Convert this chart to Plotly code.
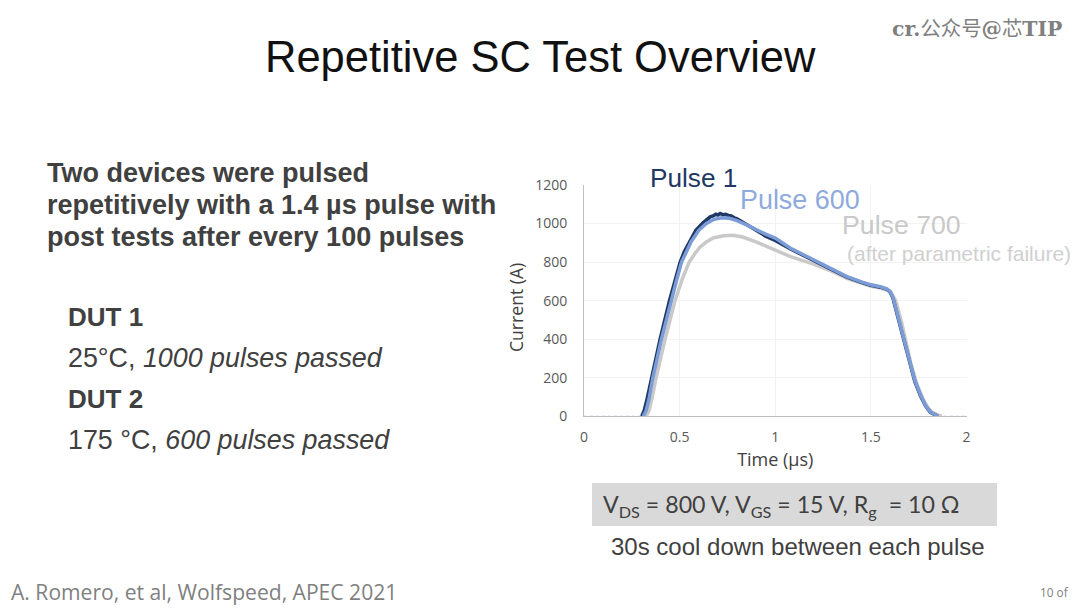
import plotly.graph_objects as go

W, H = 1080, 608

# values: time in us, current in A
pulse1_t = [0.302, 0.315, 0.33, 0.354, 0.398, 0.447, 0.475, 0.503, 0.525, 0.55, 0.585, 0.624, 0.64, 0.66, 0.675, 0.69, 0.70,
            0.712, 0.725, 0.74, 0.755, 0.77, 0.785, 0.80, 0.85, 0.90, 0.95, 1.00, 1.08, 1.20, 1.30, 1.375, 1.45, 1.50,
            1.55, 1.585, 1.60, 1.615, 1.637, 1.697, 1.73, 1.76, 1.785, 1.81, 1.85]
pulse1_i = [0, 30, 90, 200, 400, 600, 700, 800, 855, 905, 965, 1005, 1020, 1035, 1040, 1048, 1044,
            1052, 1046, 1048, 1042, 1040, 1030, 1024, 995, 965, 935, 912, 868, 808, 760, 722, 695, 680,
            670, 658, 645, 615, 530, 295, 180, 105, 55, 22, 0]

pulse600_t = [0.31, 0.325, 0.34, 0.36, 0.405, 0.455, 0.485, 0.51, 0.535, 0.56, 0.60, 0.64, 0.68, 0.72, 0.76, 0.80,
              0.85, 0.90, 0.95, 1.00, 1.08, 1.20, 1.30, 1.375, 1.45, 1.50, 1.55, 1.585, 1.60, 1.615, 1.637, 1.697, 1.73,
              1.76, 1.785, 1.81, 1.85]
pulse600_i = [0, 30, 90, 200, 400, 600, 710, 800, 855, 905, 965, 1000, 1022, 1030, 1027, 1015,
              993, 968, 945, 925, 872, 812, 765, 725, 697, 682, 672, 660, 647, 620, 537, 303, 185,
              110, 58, 24, 0]

pulse700_t = [0.325, 0.34, 0.355, 0.377, 0.424, 0.476, 0.515, 0.55, 0.58, 0.607, 0.64, 0.675, 0.73, 0.78, 0.83, 0.90,
              1.00, 1.08, 1.20, 1.30, 1.375, 1.45, 1.50, 1.55, 1.60, 1.63, 1.66, 1.71, 1.74,
              1.77, 1.795, 1.82, 1.87]
pulse700_i = [0, 30, 90, 200, 400, 600, 715, 800, 845, 878, 905, 925, 937, 939, 930, 905,
              862, 828, 790, 750, 715, 690, 675, 665, 650, 600, 490, 270, 170,
              95, 50, 20, 0]

baseline_t = [0, 0.30]
baseline_i = [0, 0]
tail_t = [1.85, 2]
tail_i = [0, 0]

x_ticks = [0, 0.5, 1, 1.5, 2]
x_labels = ["0", "0.5", "1", "1.5", "2"]
y_ticks = [0, 200, 400, 600, 800, 1000, 1200]


def px(x):
    return x / W


def py(y):
    return 1 - y / H


def label(x, y, text, size, color, font="Liberation Sans", anchor="left", angle=0):
    fig.add_annotation(x=px(x), y=py(y), xref="paper", yref="paper", text=text, showarrow=False,
                       xanchor=anchor, yanchor="middle", align="left", textangle=angle,
                       borderpad=0, borderwidth=0,
                       font=dict(family=font, size=size, color=color))


fig = go.Figure()

fig.add_trace(go.Scatter(x=baseline_t, y=baseline_i, mode="lines", line=dict(color="#8faadc", width=1, dash="dot")))
fig.add_trace(go.Scatter(x=tail_t, y=tail_i, mode="lines", line=dict(color="#8faadc", width=1, dash="dot")))
fig.add_trace(go.Scatter(x=pulse700_t, y=pulse700_i, mode="lines", name="Pulse 700",
                         line=dict(color="#c9c9c9", width=3.5)))
fig.add_trace(go.Scatter(x=pulse1_t, y=pulse1_i, mode="lines", name="Pulse 1",
                         line=dict(color="#1f3864", width=3.5)))
fig.add_trace(go.Scatter(x=pulse600_t, y=pulse600_i, mode="lines", name="Pulse 600",
                         line=dict(color="#7c9cd8", width=3.5)))

fig.update_layout(
    template="none",
    width=W, height=H,
    margin=dict(l=0, r=0, t=0, b=0),
    paper_bgcolor="white", plot_bgcolor="white",
    showlegend=False,
    font=dict(family="Open Sans", color="#595959"),
    xaxis=dict(domain=[px(584), px(966.5)], range=[0, 2], tickvals=x_ticks, ticktext=x_labels,
               showgrid=True, gridcolor="#f2f2f2", gridwidth=1, zeroline=False, automargin=False,
               showline=True, linecolor="#bfbfbf", linewidth=1, ticks="", ticklabelstandoff=8,
               tickfont=dict(size=14, color="#595959"),
               title=dict(text="Time (µs)", font=dict(size=18, color="#404040"), standoff=8)),
    yaxis=dict(domain=[py(416.3), py(185)], range=[0, 1200], tickvals=y_ticks,
               showgrid=True, gridcolor="#f2f2f2", gridwidth=1, zeroline=False, automargin=False,
               showline=True, linecolor="#bfbfbf", linewidth=1, ticks="", ticklabelstandoff=13,
               tickfont=dict(size=14, color="#595959")),
)

# grey parameter box behind the conditions line
fig.add_shape(type="rect", xref="paper", yref="paper", x0=px(592), x1=px(997), y0=py(526), y1=py(483),
              fillcolor="#d9d9d9", line=dict(width=0), layer="below")

label(540, 57, "Repetitive SC Test Overview", 43.5, "#111111", anchor="center")
label(892, 27, "<b>cr.</b><span style=\"font-family:'Noto Sans CJK SC'\">公众号</span><b>@</b>"
               "<span style=\"font-family:'Noto Sans CJK SC'\">芯</span><b>TIP</b>", 20.4, "#7f7f7f", font="DejaVu Serif")

label(47, 173, "<b>Two devices were pulsed</b>", 27, "#404040")
label(47, 205, "<b>repetitively with a 1.4 µs pulse with</b>", 27, "#404040")
label(47, 237, "<b>post tests after every 100 pulses</b>", 27, "#404040")

label(68, 317, "<b>DUT 1</b>", 26, "#404040")
label(68, 358, "25°C, <i>1000 pulses passed</i>", 26.85, "#404040")
label(68, 399, "<b>DUT 2</b>", 26, "#404040")
label(68, 440, "175 °C, <i>600 pulses passed</i>", 26.85, "#404040")

label(650, 178, "Pulse 1", 26.2, "#1f3864")
label(740, 200, "Pulse 600", 26.9, "#8faadc")
label(842, 225, "Pulse 700", 26.7, "#c9c9c9")
label(847, 253, "(after parametric failure)", 21, "#d0d0d0")

label(516, 308, "Current (A)", 17.6, "#404040", font="Open Sans", anchor="center", angle=-90)

label(603, 505, "V<sub>DS</sub> = 800 V, V<sub>GS</sub> = 15 V, R<sub>g</sub>  = 10 Ω", 23.2, "#404040", font="Lato")
label(611, 546, "30s cool down between each pulse", 24, "#404040")

label(11, 591, "A. Romero, et al, Wolfspeed, APEC 2021", 21.1, "#7f7f7f", font="Open Sans")
label(1040, 592, "10 of", 11.8, "#7f7f7f", font="Open Sans")

fig.write_html("out.html", config=dict(displayModeBar=False), post_script="document.body.style.margin='0';")
